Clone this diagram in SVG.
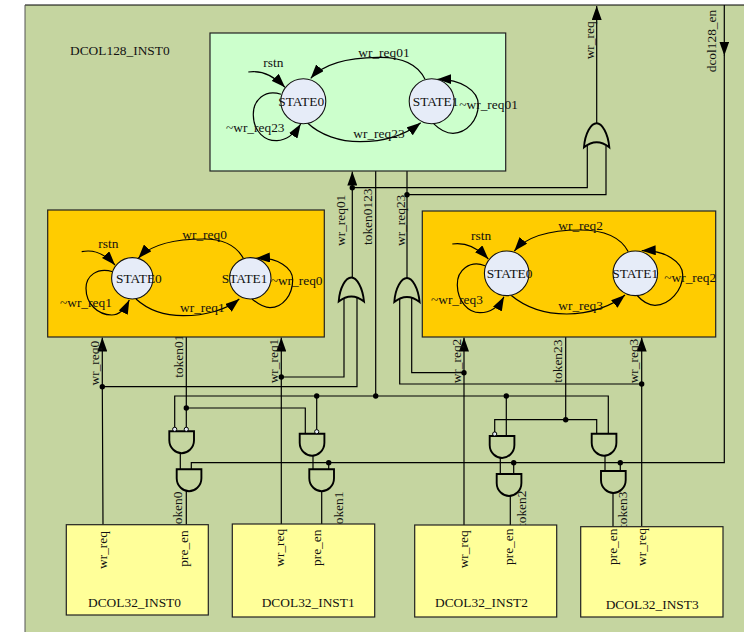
<svg xmlns="http://www.w3.org/2000/svg" width="744" height="632" viewBox="0 0 744 632">
<style>
text{font-family:"Liberation Serif","Times New Roman",serif;font-size:13.4px;fill:#111}
.w{fill:none;stroke:#000;stroke-width:1.2}
.a{marker-end:url(#arr)}
.block{stroke:#222;stroke-width:1.2}
.st{fill:#e6ecf8;stroke:#111;stroke-width:1.1}
.g{fill:#c5d5a0;stroke:#000;stroke-width:1.9}
.j{fill:#000}
.b{fill:#e6ecf8;stroke:#000;stroke-width:1}
</style>
<defs>
<marker id="arr" viewBox="0 0 14 10" refX="14" refY="5" markerWidth="14" markerHeight="10" markerUnits="userSpaceOnUse" orient="auto"><path d="M0 0L14 5L0 10Z" fill="#000"/></marker>
<path id="and" d="M0 0H24.7V9C24.7 17 18 22 12.35 22C6.7 22 0 17 0 9Z"/>
<path id="or" d="M0 24C1 10 7 0 12.7 0C18 0 24 10 25.3 24Q12.7 14 0 24Z"/>
</defs>
<rect id="background" x="25" y="5" width="730" height="640" fill="#c5d5a0"/>
<path d="M25 5H744" stroke="#000" stroke-width="1" fill="none"/>
<path d="M25 5V632" stroke="#555" stroke-width="1" fill="none"/>
<text x="70" y="55">DCOL128_INST0</text>

<g id="connectors">
<path class="w a" d="M596.7 124V6"/>
<path class="w a" d="M724.3 5V55.5"/>
<path class="w" d="M724.3 55V462.7H191.3V469"/>
<path class="w a" d="M352.3 278V171.5"/>
<path class="w" d="M352.3 187.7H587.3V146"/>
<path class="w" d="M407 171V279"/>
<path class="w" d="M407 194.7H606V146"/>
<path class="w" d="M375.7 171V396"/>
<path class="w a" d="M103 525L102.3 386V337.5"/>
<path class="w a" d="M281.3 524V337.5"/>
<path class="w a" d="M464 525V337.5"/>
<path class="w a" d="M641.7 526V337.5"/>
<path class="w" d="M102.3 386.7H357V298"/>
<path class="w" d="M281.3 377H344V298"/>
<path class="w" d="M464 372.7H411.7V298"/>
<path class="w" d="M641.7 384H399.7V298"/>
<path class="w" d="M174.7 429V396H608.3V434"/>
<path class="w" d="M186.3 337V429"/>
<path class="w" d="M186.3 408H305.3V434"/>
<path class="w" d="M316.7 396V430"/>
<path class="w" d="M506.3 396V436"/>
<path class="w" d="M565.7 337V419.7"/>
<path class="w" d="M494.7 433V419.7H596.7V434"/>
<path class="w" d="M180.3 453V469"/>
<path class="w" d="M313 455V469"/>
<path class="w" d="M328.7 462.7V469"/>
<path class="w" d="M500.3 457V474"/>
<path class="w" d="M513.7 462.7V474"/>
<path class="w" d="M605 455V471"/>
<path class="w" d="M620.3 462.7V471"/>
<path class="w" d="M186.3 491V525"/>
<path class="w" d="M321.7 491V524"/>
<path class="w" d="M510.3 496V525"/>
<path class="w" d="M613 493V527"/>
<g class="j">
<circle cx="352.3" cy="187.7" r="2.7"/><circle cx="407" cy="194.7" r="2.7"/>
<circle cx="102.3" cy="386.7" r="2.7"/><circle cx="281.3" cy="377" r="2.7"/>
<circle cx="464" cy="372.7" r="2.7"/><circle cx="641.7" cy="384" r="2.7"/>
<circle cx="375.7" cy="396" r="2.7"/><circle cx="316.7" cy="396" r="2.7"/>
<circle cx="506.3" cy="396" r="2.7"/><circle cx="186.3" cy="408" r="2.7"/>
<circle cx="565.7" cy="419.7" r="2.7"/><circle cx="328.7" cy="462.7" r="2.7"/>
<circle cx="513.7" cy="462.7" r="2.7"/><circle cx="620.3" cy="462.7" r="2.7"/>
</g>
<text transform="translate(594.3 59.3) rotate(-90)">wr_req</text>
<text transform="translate(715.7 72.3) rotate(-90)">dcol128_en</text>
<text transform="translate(345.3 246) rotate(-90)">wr_req01</text>
<text transform="translate(372.3 245) rotate(-90)">token0123</text>
<text transform="translate(405 246) rotate(-90)">wr_req23</text>
<text transform="translate(99.3 385.5) rotate(-90)">wr_req0</text>
<text transform="translate(182.7 377.8) rotate(-90)">token01</text>
<text transform="translate(277.7 383.3) rotate(-90)">wr_req1</text>
<text transform="translate(461 383.3) rotate(-90)">wr_req2</text>
<text transform="translate(561.7 382.7) rotate(-90)">token23</text>
<text transform="translate(638.3 383.3) rotate(-90)">wr_req3</text>
<text transform="translate(181.7 528) rotate(-90)">token0</text>
<text transform="translate(342.7 528) rotate(-90)">token1</text>
<text transform="translate(526.3 527) rotate(-90)">token2</text>
<text transform="translate(626.7 528) rotate(-90)">token3</text>
</g>

<g id="DCOL128_FSM">
<rect class="block" x="210" y="33" width="295.7" height="138" fill="#ccffcc"/>
<path class="w a" d="M248.3 72C262 70 273 75 285 87.3"/>
<path class="w a" d="M425 79.3C417 62 398 57 378 57.3C350 57.5 325 62 310.7 78.3"/>
<path class="w a" d="M281 94.3C265 89 253 100 253.3 115C253.6 132 265 141 277 140.7C288 140 295 133 300.7 124"/>
<path class="w a" d="M307.3 122.7C320 135 340 141.7 360 141.7C385 141.7 405 135 420.7 122.7"/>
<path class="w a" d="M433.3 123.3C440 130 447 133.3 453 133.3C467 133 478 120 478.3 105C478.5 90 460 79 437.3 79.3"/>
<circle class="st" cx="303.3" cy="101.3" r="22.5"/>
<circle class="st" cx="431.7" cy="101.3" r="22.5"/>
<text x="263.3" y="66.7">rstn</text>
<text x="358.3" y="57.3">wr_req01</text>
<text x="278.3" y="106">STATE0</text>
<text x="412.7" y="106">STATE1</text>
<text x="459.3" y="109">~wr_req01</text>
<text x="226" y="132.3">~wr_req23</text>
<text x="353.3" y="137.7">wr_req23</text>
</g>

<g id="FSM_LEFT">
<rect class="block" x="47.7" y="210" width="276.6" height="127" fill="#ffcc00"/>
<path class="w a" d="M81.7 251.7C94 249 105 254 115 265"/>
<path class="w a" d="M243.3 258.3C236 245 222 239 204 239C178 239 152 243 138.3 258.3"/>
<path class="w a" d="M112.7 271.7C97 267 86 276 86 288.3C86 304 98 315 111.7 315C120 315 125 309 129.3 300"/>
<path class="w a" d="M136 299C148 310 165 315.7 183.3 315.7C205 315.7 226 310 239.3 299"/>
<path class="w a" d="M252 299C258 304 264 307.7 270 307.7C283 307.7 292.5 295 292.7 280C292.9 268 278 257 256 258.3"/>
<circle class="st" cx="132.3" cy="278.3" r="20.7"/>
<circle class="st" cx="250.3" cy="278.3" r="20.7"/>
<text x="98.3" y="247.7">rstn</text>
<text x="182.3" y="239">wr_req0</text>
<text x="116" y="283.3">STATE0</text>
<text x="221.7" y="283.3">STATE1</text>
<text x="270.7" y="285">~wr_req0</text>
<text x="60" y="306.7">~wr_req1</text>
<text x="180" y="312">wr_req1</text>
</g>

<g id="FSM_RIGHT">
<rect class="block" x="422.3" y="211" width="293.4" height="126" fill="#ffcc00"/>
<path class="w a" d="M452.3 244C466 242 477 247 488.3 259"/>
<path class="w a" d="M628.3 251.7C620 236 602 230 580 230C555 230 528 235 514.3 251"/>
<path class="w a" d="M485 265.7C470 260 457 270 457.3 285C457.6 301 468 312.7 480 312.7C491 312.7 499 306 504 296.7"/>
<path class="w a" d="M510.7 295C525 307 545 314 566.7 314C590 314 612 306 625 295"/>
<path class="w a" d="M636.7 295C642 301 649 305.3 655 305.3C670 305 682.5 290 682.7 275C682.9 262 665 250 641.7 250.7"/>
<circle class="st" cx="506.7" cy="273.3" r="22.3"/>
<circle class="st" cx="635.3" cy="273.3" r="22.3"/>
<text x="471" y="240">rstn</text>
<text x="558.3" y="230">wr_req2</text>
<text x="486.7" y="278.3">STATE0</text>
<text x="612.3" y="278.3">STATE1</text>
<text x="664.3" y="282.3">~wr_req2</text>
<text x="431" y="304.3">~wr_req3</text>
<text x="558.3" y="310">wr_req3</text>
</g>

<g id="OR_TOP"><use href="#or" class="g" x="584" y="123.3"/></g>
<g id="OR_LEFT"><use href="#or" class="g" x="338.7" y="277.5"/></g>
<g id="OR_RIGHT"><use href="#or" class="g" x="394.3" y="278"/></g>
<g id="AND0"><use href="#and" class="g" x="169.3" y="431.3"/><circle class="b" cx="174.7" cy="429.3" r="2.1"/><circle class="b" cx="186.3" cy="429.3" r="2.1"/></g>
<g id="AND1"><use href="#and" class="g" x="176.7" y="469.3"/></g>
<g id="AND2"><use href="#and" class="g" x="299.7" y="433.7"/><circle class="b" cx="316.7" cy="431.7" r="2.1"/></g>
<g id="AND3"><use href="#and" class="g" x="309.3" y="469.3"/></g>
<g id="AND4"><use href="#and" class="g" x="489.7" y="436"/><circle class="b" cx="494.7" cy="434" r="2.1"/></g>
<g id="AND5"><use href="#and" class="g" x="496.7" y="474"/></g>
<g id="AND6"><use href="#and" class="g" x="591.7" y="433.7"/></g>
<g id="AND7"><use href="#and" class="g" x="601" y="471"/></g>

<g id="DCOL32_INST0">
<rect class="block" x="66.3" y="524.7" width="142" height="90.3" fill="#ffff99"/>
<text transform="translate(107.3 569) rotate(-90)">wr_req</text>
<text transform="translate(187.7 566.7) rotate(-90)">pre_en</text>
<text x="88" y="607">DCOL32_INST0</text>
</g>
<g id="DCOL32_INST1">
<rect class="block" x="232.3" y="524" width="142.4" height="93" fill="#ffff99"/>
<text transform="translate(284 566.7) rotate(-90)">wr_req</text>
<text transform="translate(321 566) rotate(-90)">pre_en</text>
<text x="261.7" y="607">DCOL32_INST1</text>
</g>
<g id="DCOL32_INST2">
<rect class="block" x="414.7" y="525" width="142" height="92" fill="#ffff99"/>
<text transform="translate(468.3 568.3) rotate(-90)">wr_req</text>
<text transform="translate(512.7 565) rotate(-90)">pre_en</text>
<text x="435" y="607.3">DCOL32_INST2</text>
</g>
<g id="DCOL32_INST3">
<rect class="block" x="580.7" y="526.7" width="142.3" height="90.3" fill="#ffff99"/>
<text transform="translate(616.7 565) rotate(-90)">pre_en</text>
<text transform="translate(645.7 566) rotate(-90)">wr_req</text>
<text x="605.7" y="609.3">DCOL32_INST3</text>
</g>
</svg>
